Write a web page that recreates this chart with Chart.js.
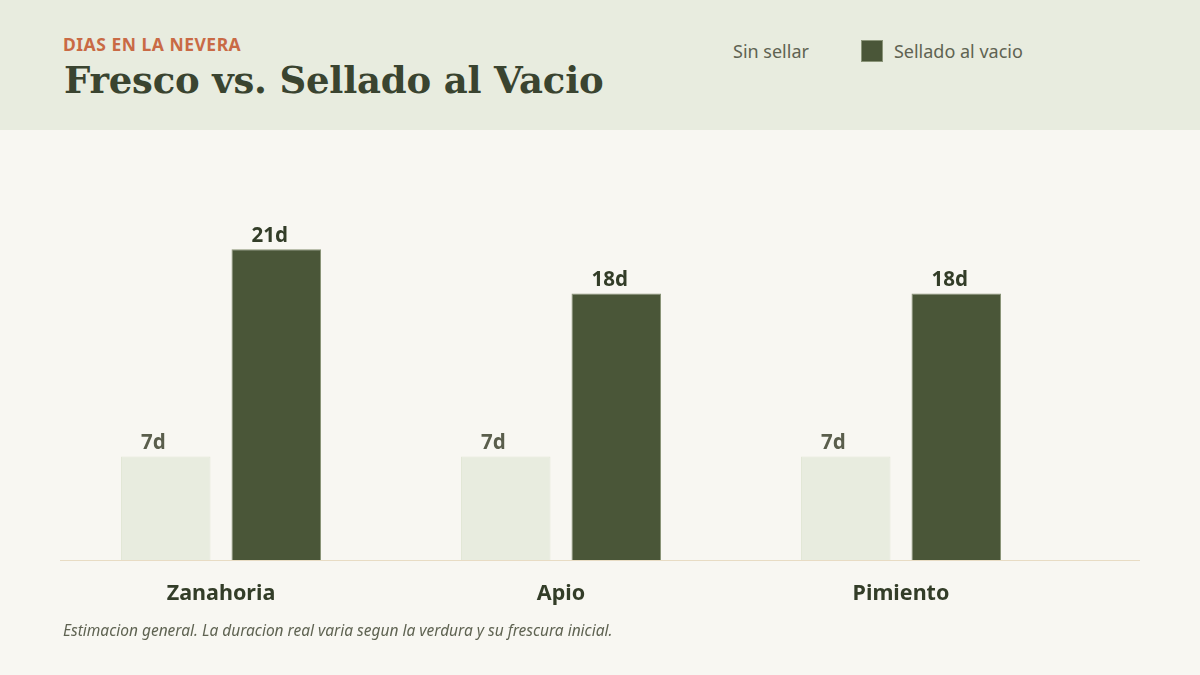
<!DOCTYPE html>
<html>
<head>
<meta charset="utf-8">
<script src="https://cdn.jsdelivr.net/npm/chart.js@4"></script>
<style>
  html, body { margin: 0; padding: 0; }
  body { width: 1200px; height: 675px; background: #F8F7F2; position: relative; overflow: hidden; font-family: "Noto Sans", sans-serif; }
  #header { position: absolute; left: 0; top: 0; width: 1200px; height: 130px; background: #E8ECDF; }
  #kicker { position: absolute; left: 63px; top: 32px; font-size: 17.5px; font-weight: 700; color: #C96A45; letter-spacing: 0.5px; }
  #title { position: absolute; left: 64px; top: 58px; font-family: "DejaVu Serif", serif; font-size: 37px; font-weight: 700; color: #3A4430; letter-spacing: -0.2px; }
  #legend { position: absolute; left: 700px; top: 39px; font-size: 18px; color: #5F6352; display: flex; align-items: center; }
  .item { display: flex; align-items: center; margin-right: 52px; }
  .sw { width: 20px; height: 20px; margin-right: 11px; border: 1px solid #8A9478; }
  #wrap { position: absolute; left: 0; top: 130px; width: 1200px; height: 545px; }
  #note { position: absolute; left: 63px; top: 619px; font-size: 15.5px; font-style: italic; color: #5F6352; }
</style>
</head>
<body>
<div id="header">
  <div id="kicker">DIAS EN LA NEVERA</div>
  <div id="title">Fresco vs. Sellado al Vacio</div>
  <div id="legend"></div>
</div>
<div id="wrap"><canvas id="chart" width="1200" height="545"></canvas></div>
<div id="note">Estimacion general. La duracion real varia segun la verdura y su frescura inicial.</div>
<script>
const categories = ["Zanahoria", "Apio", "Pimiento"];
const seriesNames = ["Sin sellar", "Sellado al vacio"];
const sinSellar = [7, 7, 7];
const sellado = [21, 18, 18];
const barColors = ["#E8ECDF", "#4A5638"];
const labelColors = ["#5A5E4C", "#333D28"];

// html legend from the series
const legend = document.getElementById("legend");
seriesNames.forEach((name, i) => {
  const item = document.createElement("div");
  item.className = "item";
  item.innerHTML = `<span class="sw" style="background:${barColors[i]};border-color:${i ? "#8A9478" : barColors[i]}"></span>${name}`;
  legend.appendChild(item);
});

const extras = {
  id: "extras",
  afterDatasetsDraw(chart) {
    const ctx = chart.ctx;
    const area = chart.chartArea;
    const x = chart.scales.x;
    // baseline
    ctx.save();
    ctx.strokeStyle = "#E8DCC4";
    ctx.lineWidth = 1;
    ctx.beginPath();
    ctx.moveTo(60, area.bottom + 0.5);
    ctx.lineTo(1140, area.bottom + 0.5);
    ctx.stroke();
    // value labels
    ctx.font = "700 20.5px 'Noto Sans'";
    ctx.textAlign = "left";
    ctx.textBaseline = "bottom";
    chart.data.datasets.forEach((ds, di) => {
      chart.getDatasetMeta(di).data.forEach((bar, i) => {
        ctx.fillStyle = labelColors[di];
        ctx.fillText(ds.data[i] + "d", bar.x - bar.width / 2 + 20, bar.y - 3);
      });
    });
    // category labels
    ctx.font = "700 21.5px 'Noto Sans'";
    ctx.textAlign = "center";
    ctx.textBaseline = "middle";
    ctx.fillStyle = "#333D28";
    categories.forEach((c, i) => {
      ctx.fillText(c, x.getPixelForValue(i), area.bottom + 34);
    });
    ctx.restore();
  }
};

new Chart(document.getElementById("chart"), {
  type: "bar",
  data: {
    labels: categories,
    datasets: [
      { label: seriesNames[0], data: sinSellar, backgroundColor: barColors[0], borderColor: "#E2E7D6", borderWidth: 1 },
      { label: seriesNames[1], data: sellado, backgroundColor: barColors[1], borderColor: "#8A9478", borderWidth: 1 },
    ],
  },
  options: {
    responsive: false,
    animation: false,
    layout: { padding: { left: 51, right: 129, top: 60, bottom: 115 } },
    datasets: { bar: { categoryPercentage: 0.65, barPercentage: 0.81 } },
    scales: {
      x: { display: false },
      y: { display: false, min: 0, max: 25 },
    },
    plugins: { legend: { display: false }, tooltip: { enabled: false } },
  },
  plugins: [extras],
});
</script>
</body>
</html>
